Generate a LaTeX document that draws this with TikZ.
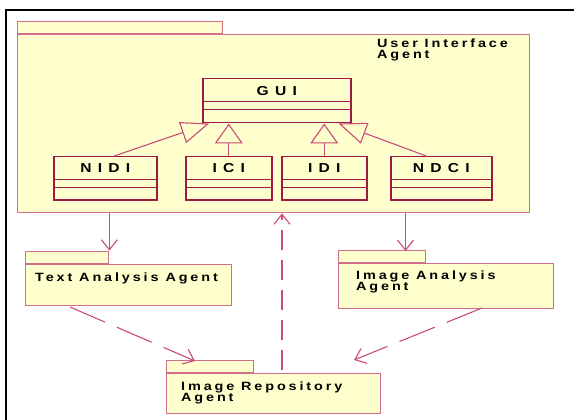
\documentclass[tikz,border=0pt]{standalone}
\usepackage{fontspec}
\setmainfont{Liberation Sans}
\newfontfamily\pkgfont{Liberation Sans Bold}[FakeStretch=1.2, LetterSpace=24]
\newfontfamily\clsfont{Liberation Sans Bold}[FakeStretch=1.2, LetterSpace=48]
\usetikzlibrary{arrows.meta}
\definecolor{pkgfill}{RGB}{255,255,206}
\definecolor{pkgline}{RGB}{208,110,140}
\definecolor{clsline}{RGB}{160,25,68}
\definecolor{conline}{RGB}{200,75,120}
\tikzset{
  pkgbody/.style={draw=pkgline, fill=pkgfill, line width=1.4pt, inner sep=0pt, anchor=north west},
  pkgtab/.style={draw=pkgline, fill=pkgfill, line width=1.4pt, inner sep=0pt, anchor=south west, minimum height=12pt},
  pkglabel/.style={anchor=west, align=left, inner sep=0pt, font=\pkgfont\fontsize{12}{11.5}\selectfont},
  clsbox/.style={draw=clsline, fill=pkgfill, line width=1.5pt, inner sep=0pt, anchor=north west},
  clssep/.style={draw=clsline, line width=1pt},
  clslabel/.style={inner sep=0pt, font=\clsfont\fontsize{13}{12}\selectfont},
  genv/.style={draw=conline, line width=1.1pt, -{Triangle[open, length=20pt, width=28pt]}},
  gend/.style={draw=conline, line width=1.1pt, -{Triangle[open, length=28pt, width=22pt]}},
  dep/.style={draw=conline, line width=1.1pt, -{Straight Barb[length=10pt, width=16pt]}},
  depdash/.style={dep, dash pattern=on 20pt off 10pt},
  depdiag/.style={dep, dash pattern=on 38pt off 13pt}
}
\newcommand\umlclass[4]{%
  \node[clsbox, minimum width=#3pt, minimum height=43pt] (#1) at (#2,156) {};
  \draw[clssep] ([yshift=-24pt]#1.north west) -- ([yshift=-24pt]#1.north east);
  \draw[clssep] ([yshift=-32pt]#1.north west) -- ([yshift=-32pt]#1.north east);
  \node[clslabel] (#1label) at ([yshift=-12pt]#1.north) {#4};
}
\begin{document}
\begin{tikzpicture}[x=1pt, y=-1pt]
\useasboundingbox (0,0) rectangle (574,420);
% outer frame (top and left edges visible)
\draw[line width=2.6pt] (6,425) -- (6,10) -- (580,10);

% User Interface Agent package
\node[pkgbody, minimum width=512pt, minimum height=178pt] (ui) at (17,34) {};
\node[pkgtab, minimum width=205pt] (uitab) at (17,34) {};
\node[pkglabel] (uilabel) at (377,50) {User Interface\\Agent};

% GUI class
\node[clsbox, minimum width=148pt, minimum height=44pt] (gui) at (202,78) {};
\draw[clssep] ([yshift=-24pt]gui.north west) -- ([yshift=-24pt]gui.north east);
\draw[clssep] ([yshift=-32pt]gui.north west) -- ([yshift=-32pt]gui.north east);
\node[clslabel] (guilabel) at ([yshift=-13pt]gui.north) {GUI};

% interface classes
\umlclass{nidi}{53}{103}{NIDI}
\umlclass{ici}{185}{86}{ICI}
\umlclass{idi}{281}{85}{IDI}
\umlclass{ndci}{390}{101}{NDCI}

% generalizations
\draw[gend] ([xshift=9pt]nidi.north) -- ([xshift=7pt]gui.south west);
\draw[genv] (ici.north) -- (ici.north |- gui.south);
\draw[genv] (idi.north) -- (idi.north |- gui.south);
\draw[gend] ([xshift=-15pt]ndci.north) -- ([xshift=-13pt]gui.south east);

% Text Analysis Agent package
\node[pkgbody, minimum width=206pt, minimum height=41pt] (ta) at (25,264) {};
\node[pkgtab, minimum width=83pt] (tatab) at (25,264) {};
\node[pkglabel] (talabel) at (35,278) {Text Analysis Agent};

% Image Analysis Agent package
\node[pkgbody, minimum width=215pt, minimum height=45pt] (ia) at (338,263) {};
\node[pkgtab, minimum width=87pt] (iatab) at (338,263) {};
\node[pkglabel] (ialabel) at (356,282) {Image Analysis\\Agent};

% Image Repository Agent package
\node[pkgbody, minimum width=214pt, minimum height=40pt] (rp) at (166,373) {};
\node[pkgtab, minimum width=87pt] (rptab) at (166,373) {};
\node[pkglabel] (rplabel) at (181,393) {Image Repository\\Agent};

% connector end points
\coordinate (iain) at (405.5,251);
\coordinate (rpout) at (282,370);
\coordinate (taout) at (70,307);
\coordinate (rpinl) at (195,361);
\coordinate (iaout) at (482,308);
\coordinate (rpinr) at (354,360);

% dependencies
\draw[dep] (ui.south -| tatab.north east) -- (tatab.north east);
\draw[dep] (ui.south -| iain) -- (iain);
\draw[depdash] (rpout) -- (ui.south -| rpout);
\draw[depdiag] (taout) -- (rpinl);
\draw[depdiag] (iaout) -- (rpinr);
\end{tikzpicture}
\end{document}
